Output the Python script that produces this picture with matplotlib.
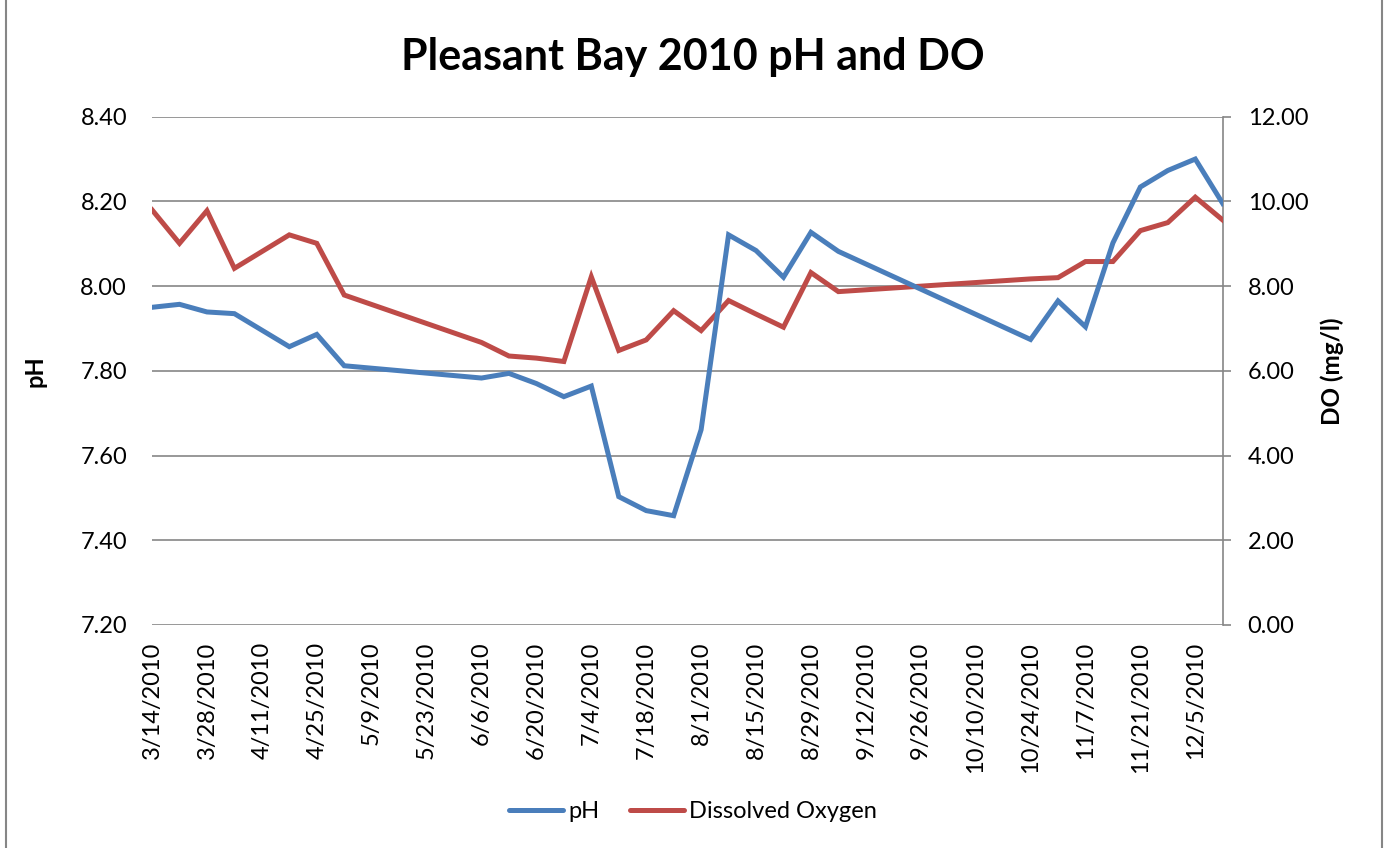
import matplotlib
matplotlib.use("Agg")
import matplotlib.pyplot as plt
import pandas as pd
from matplotlib.lines import Line2D

plt.rcParams['font.family'] = ['Lato', 'DejaVu Sans']

# sample dates and readings
dates = ['2010-03-14', '2010-03-21', '2010-03-28', '2010-04-04', '2010-04-18',
         '2010-04-25', '2010-05-02', '2010-06-06', '2010-06-13', '2010-06-20',
         '2010-06-27', '2010-07-04', '2010-07-11', '2010-07-18', '2010-07-25',
         '2010-08-01', '2010-08-08', '2010-08-15', '2010-08-22', '2010-08-29',
         '2010-09-05', '2010-10-24', '2010-10-31', '2010-11-07', '2010-11-14',
         '2010-11-21', '2010-11-28', '2010-12-05', '2010-12-12']
ph = [7.950, 7.957, 7.939, 7.935, 7.857,
      7.886, 7.812, 7.783, 7.794, 7.770,
      7.739, 7.764, 7.503, 7.470, 7.458,
      7.661, 8.121, 8.084, 8.021, 8.127,
      8.082, 7.874, 7.965, 7.904, 8.102,
      8.234, 8.273, 8.300, 8.195]
do = [9.80, 9.01, 9.78, 8.42, 9.21,
      9.01, 7.79, 6.67, 6.35, 6.30,
      6.22, 8.22, 6.48, 6.73, 7.42,
      6.95, 7.66, 7.34, 7.03, 8.32,
      7.87, 8.17, 8.20, 8.58, 8.58,
      9.31, 9.50, 10.10, 9.56]

ph_ticks = [7.2, 7.4, 7.6, 7.8, 8.0, 8.2, 8.4]
do_ticks = [0, 2, 4, 6, 8, 10, 12]

x = pd.to_datetime(dates)

fig = plt.figure(figsize=(13.86, 8.48), dpi=100)
ax = fig.add_axes([0.1097, 0.263, 0.7725, 0.5994])
ax2 = ax.twinx()

grid_c = '#868686'
blue = '#4A7EBB'
red = '#BE4B48'

l1, = ax.plot(x, ph, color=blue, lw=3.6, label='pH', solid_joinstyle='miter', zorder=3)
l2, = ax2.plot(x, do, color=red, lw=3.6, label='Dissolved Oxygen', solid_joinstyle='miter', zorder=3)
ax.set_zorder(2)
ax.patch.set_visible(False)

ax.set_ylim(7.2, 8.4)
ax.set_yticks(ph_ticks)
ax.set_yticklabels([f'{v:.2f}' for v in ph_ticks])
ax2.set_ylim(0, 12)
ax2.set_yticks(do_ticks)
ax2.set_yticklabels([f'{v:.2f}' for v in do_ticks])

ax.set_xlim(x[0], x[-1])
ticks = pd.date_range(x[0], x[-1], freq='14D')
ax.set_xticks(ticks)
ax.set_xticklabels([f'{d.month}/{d.day}/{d.year}' for d in ticks], rotation=90)

ax2.grid(axis='y', color=grid_c, lw=1.2)
ax2.set_axisbelow(True)
for s in ['top', 'left', 'right', 'bottom']:
    ax.spines[s].set_visible(False)
for s in ['top', 'left', 'bottom']:
    ax2.spines[s].set_visible(False)
ax2.spines['right'].set_color(grid_c)
ax2.spines['right'].set_linewidth(1.2)

ax.tick_params(axis='y', length=0, labelsize=17, pad=18)
ax.tick_params(axis='x', length=0, labelsize=17, pad=12)
ax2.tick_params(axis='y', length=6, width=1.2, color=grid_c, labelsize=17, pad=12)

ax.set_ylabel('pH', fontsize=17, fontweight='bold', va='center')
ax.yaxis.set_label_coords(-0.109, 0.5)
ax2.set_ylabel('DO (mg/l)', fontsize=17.5, fontweight='bold', va='center', rotation=90)
ax2.yaxis.set_label_coords(1.102, 0.5)

fig.text(0.5, 1 - 70 / 848, 'Pleasant Bay 2010 pH and DO', ha='center', va='baseline',
         fontsize=31, fontweight='bold')

leg = fig.legend(handles=[l1, l2], loc='center', bbox_to_anchor=(0.5, 0.0425), ncol=2,
                 frameon=False, fontsize=17, handlelength=2.3, columnspacing=1.3,
                 handletextpad=0.2)
for ln in leg.get_lines():
    ln.set_solid_capstyle('round')

# chart frame (left and right edges visible)
fig.add_artist(Line2D([0.004, 0.004], [0, 1], transform=fig.transFigure, color=grid_c, lw=1.5))
fig.add_artist(Line2D([0.997, 0.997], [0, 1], transform=fig.transFigure, color=grid_c, lw=1.5))

fig.savefig('out.png', dpi=100)
